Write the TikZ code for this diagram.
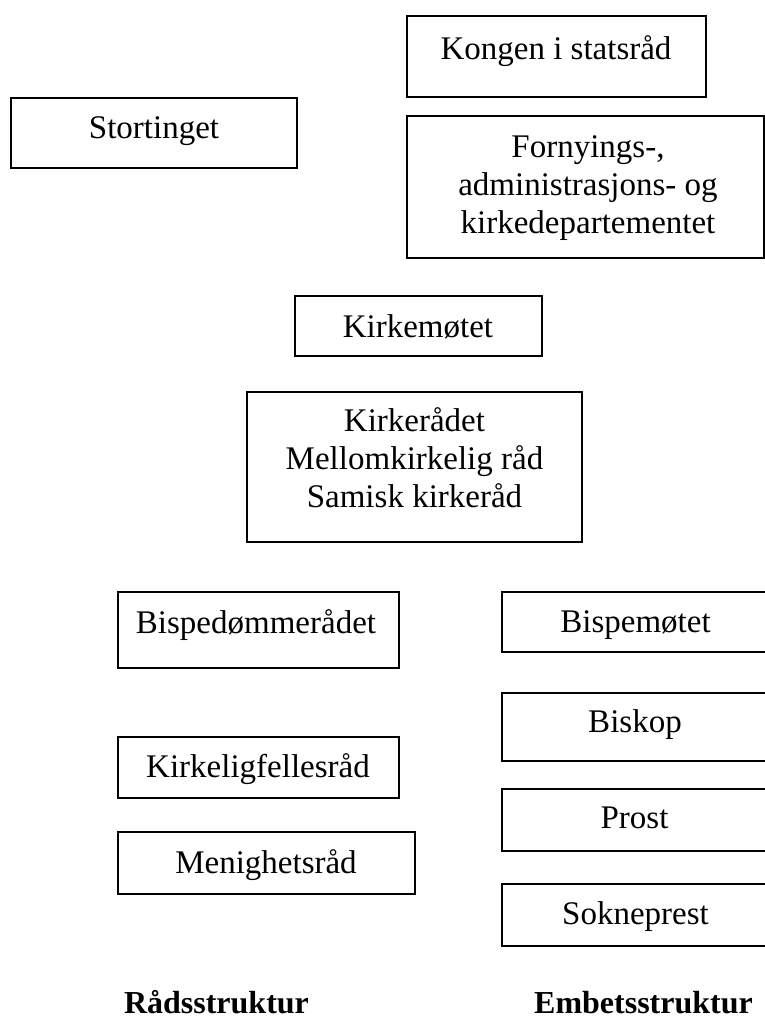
\documentclass[tikz,border=0pt]{standalone}
\usepackage{fontspec}
\setmainfont{Liberation Serif}
\tikzset{
  box/.style={draw=black, line width=1.6pt, rectangle, inner sep=0pt, outer sep=0pt},
  lbl/.style={font=\fontsize{33}{37.8}\selectfont, inner sep=0pt, anchor=base, align=center},
  head/.style={font=\fontsize{32}{38}\selectfont\bfseries, inner sep=0pt, anchor=base},
}
\begin{document}
\begin{tikzpicture}[x=1pt,y=-1pt]
  \useasboundingbox (0,0) rectangle (765,1021);
  % boxes
  \node[box, minimum width=299pt, minimum height=81pt]  (kongen)  at (556.5,56.5) {};
  \node[box, minimum width=286pt, minimum height=70pt]  (storting) at (154,133) {};
  \node[box, minimum width=357pt, minimum height=142pt] (fad)     at (585.5,187) {};
  \node[box, minimum width=247pt, minimum height=60pt]  (kmote)   at (418.5,326) {};
  \node[box, minimum width=335pt, minimum height=150pt] (krad)    at (414.5,467) {};
  \node[box, minimum width=281pt, minimum height=76pt]  (bdr)     at (258.5,630) {};
  \node[box, minimum width=281pt, minimum height=61pt]  (kfr)     at (258.5,767.5) {};
  \node[box, minimum width=297pt, minimum height=62pt]  (mr)      at (266.5,863) {};
  \node[box, minimum width=264pt, minimum height=60pt]  (bm)      at (634,622) {};
  \node[box, minimum width=264pt, minimum height=68pt]  (biskop)  at (634,727) {};
  \node[box, minimum width=264pt, minimum height=62pt]  (prost)   at (634,820) {};
  \node[box, minimum width=264pt, minimum height=62pt]  (sokne)   at (634,915) {};
  % texts (multi-line texts are placed by the baseline of their last line)
  \node[lbl] (kongenT)   at (556,59)    {Kongen i statsråd};
  \node[lbl] (stortingT) at (154,138)   {Stortinget};
  \node[lbl] (fadT)      at (588,233)   {Fornyings-,\\administrasjons- og\\kirkedepartementet};
  \node[lbl] (kmoteT)    at (418,337)   {Kirkemøtet};
  \node[lbl] (kradT)     at (414.5,507.5) {Kirkerådet\\Mellomkirkelig råd\\Samisk kirkeråd};
  \node[lbl] (bdrT)      at (256,633)   {Bispedømmerådet};
  \node[lbl] (kfrT)      at (258,777.5) {Kirkeligfellesråd};
  \node[lbl] (mrT)       at (266,873)   {Menighetsråd};
  \node[lbl] (bmT)       at (635.5,632.5) {Bispemøtet};
  \node[lbl] (biskopT)   at (635,732.5) {Biskop};
  \node[lbl] (prostT)    at (634.5,828) {Prost};
  \node[lbl] (sokneT)    at (635.5,924) {Sokneprest};
  \node[head] (rad)  at (216.5,1013) {Rådsstruktur};
  \node[head] (emb)  at (643.5,1013) {Embetsstruktur};
\end{tikzpicture}
\end{document}
